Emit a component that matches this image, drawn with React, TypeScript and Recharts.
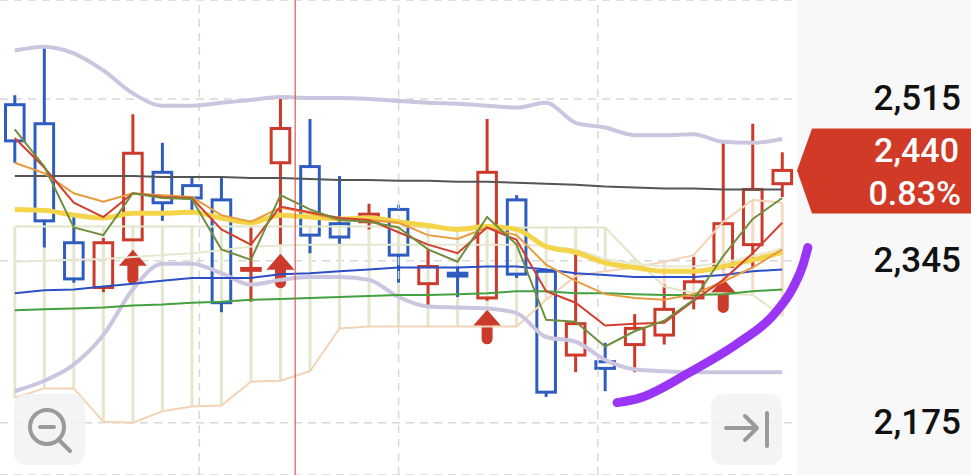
import React from "react";
import { ComposedChart, Bar, Line, XAxis, YAxis, CartesianGrid, ReferenceLine } from "recharts";

// 27 sessions, oldest first
const sessions = [0, 1, 2, 3, 4, 5, 6, 7, 8, 9, 10, 11, 12, 13, 14, 15, 16, 17, 18, 19, 20, 21, 22, 23, 24, 25, 26];

const opens = [2509, 2489, 2364, 2317, 2367, 2438, 2424, 2409, 2335, 2448, 2444, 2384, 2386, 2399, 2321, 2332, 2306, 2409, 2334, 2246, 2239, 2257, 2267, 2306, 2339, 2362, 2426];
const highs = [2519, 2570, 2394, 2369, 2499, 2469, 2434, 2434, 2380, 2518, 2494, 2434, 2405, 2404, 2357, 2339, 2494, 2414, 2336, 2354, 2259, 2289, 2320, 2349, 2469, 2489, 2459];
const lows = [2448, 2359, 2322, 2312, 2366, 2387, 2397, 2291, 2302, 2362, 2353, 2362, 2378, 2322, 2297, 2307, 2303, 2327, 2202, 2228, 2208, 2228, 2257, 2294, 2336, 2338, 2412];
const closes = [2471, 2387, 2326, 2364, 2458, 2406, 2411, 2301, 2337, 2484, 2372, 2370, 2394, 2351, 2339, 2329, 2438, 2331, 2207, 2279, 2232, 2274, 2294, 2323, 2384, 2420, 2440];

// sessions marked with a buy arrow
const buySignals = [4, 9, 16, 24];

// moving averages
const ma5 = [2483, 2444, 2380, 2372, 2416, 2411, 2410, 2357, 2346, 2414, 2399, 2388, 2386, 2380, 2357, 2344, 2391, 2362, 2283, 2281, 2255, 2271, 2282, 2304, 2350, 2389, 2411];
const ma10 = [2474, 2443, 2406, 2391, 2416, 2412, 2411, 2378, 2362, 2402, 2396, 2390, 2388, 2375, 2362, 2353, 2380, 2367, 2313, 2301, 2277, 2279, 2280, 2303, 2325, 2353, 2385];
const ma20 = [2448, 2437, 2416, 2407, 2416, 2414, 2412, 2393, 2386, 2401, 2395, 2388, 2388, 2385, 2372, 2368, 2380, 2372, 2341, 2324, 2310, 2306, 2304, 2310, 2323, 2338, 2357];
const ma60 = [2399, 2398, 2393, 2390, 2395, 2395, 2396, 2390, 2385, 2393, 2391, 2389, 2390, 2386, 2382, 2378, 2381, 2378, 2360, 2354, 2343, 2338, 2334, 2334, 2339, 2346, 2354];
const ma120 = [2311, 2314, 2315, 2318, 2321, 2324, 2327, 2327, 2327, 2331, 2332, 2334, 2336, 2338, 2338, 2338, 2339, 2339, 2336, 2332, 2330, 2328, 2328, 2328, 2330, 2334, 2336];
const ma240 = [2293, 2294, 2295, 2296, 2298, 2299, 2301, 2302, 2304, 2305, 2306, 2307, 2308, 2309, 2309, 2310, 2311, 2313, 2313, 2311, 2311, 2310, 2309, 2309, 2310, 2313, 2315];
const ma480 = [2434, 2434, 2434, 2434, 2434, 2433, 2433, 2433, 2432, 2432, 2431, 2430, 2430, 2429, 2429, 2428, 2428, 2427, 2426, 2425, 2423, 2422, 2421, 2421, 2420, 2420, 2420];

// bollinger bands
const bandUpper = [2566, 2570, 2563, 2545, 2521, 2508, 2508, 2511, 2514, 2517, 2516, 2516, 2515, 2513, 2511, 2510, 2508, 2506, 2511, 2490, 2485, 2477, 2477, 2478, 2470, 2469, 2473];
const bandLower = [2208, 2219, 2236, 2267, 2315, 2342, 2342, 2332, 2320, 2325, 2328, 2328, 2325, 2307, 2297, 2296, 2295, 2290, 2265, 2260, 2241, 2231, 2229, 2228, 2228, 2228, 2228];

// ichimoku
const spanA = [2381, 2381, 2381, 2381, 2381, 2381, 2381, 2381, 2381, 2381, 2381, 2381, 2381, 2381, 2380, 2380, 2380, 2380, 2380, 2380, 2380, 2348, 2318, 2311, 2311, 2309, 2287];
const spanB = [2201, 2211, 2211, 2176, 2175, 2187, 2192, 2193, 2218, 2219, 2229, 2274, 2276, 2276, 2276, 2276, 2276, 2276, 2304, 2329, 2334, 2338, 2344, 2351, 2386, 2409, 2406];
const baseLine = [2344, 2345, 2346, 2347, 2349, 2351, 2353, 2356, 2360, 2361, 2362, 2362, 2362, 2362, 2362, 2362, 2362, 2362, 2361, 2357, 2347, 2342, 2339, 2339, 2343, 2350, 2358];

// hand-drawn trend stroke (session position, price)
const penAt = [20.4, 21.18, 22.87, 24.57, 25.69, 26.36, 26.7, 26.86];
const penPrice = [2196, 2201, 2228, 2260, 2288, 2317, 2341, 2359];

const priceTicks = [2175, 2345, 2515];
// time grid every quarter of the visible range, in session units
const timeGrid = [6.25, 13, 19.75];

const UP = "#cc3a2b";
const DOWN = "#2f5dbf";
const W = 971;
const H = 475;
const AXIS_W = 174;
const FONT = "Roboto, 'Noto Sans', sans-serif";

const rows = sessions.map((s, i) => ({
  s,
  o: opens[i],
  h: highs[i],
  l: lows[i],
  c: closes[i],
  hl: [lows[i], highs[i]],
  cloud: [Math.min(spanA[i], spanB[i]), Math.max(spanA[i], spanB[i])],
  bull: spanA[i] >= spanB[i],
  sig: buySignals.includes(i),
  ma5: ma5[i],
  ma10: ma10[i],
  ma20: ma20[i],
  ma60: ma60[i],
  ma120: ma120[i],
  ma240: ma240[i],
  ma480: ma480[i],
  bbU: bandUpper[i],
  bbL: bandLower[i],
  spanA: spanA[i],
  spanB: spanB[i],
  base: baseLine[i],
}));

const penTrail = penAt.map((p, i) => ({ p, v: penPrice[i] }));

const last = closes[closes.length - 1];
const prev = closes[closes.length - 2];
const changePct = (((last - prev) / prev) * 100).toFixed(2) + "%";

function arrowPath(cx: number, t: number) {
  return `M${cx} ${t} L${cx + 14} ${t + 16} L${cx + 5.5} ${t + 16} L${cx + 5.5} ${t + 29} A5.5 5.5 0 0 1 ${cx - 5.5} ${t + 29} L${cx - 5.5} ${t + 16} L${cx - 14} ${t + 16} Z`;
}

// hollow candle: wick + open/close box, scaled from the high-low bar
function Candle(props: any) {
  const { x, y, width, height, payload } = props;
  const { o, h, l, c, sig } = payload;
  const unit = height / (h - l);
  const py = (v: number) => y + (h - v) * unit;
  const color = c >= o ? UP : DOWN;
  const cx = x + width / 2;
  const top = py(Math.max(o, c));
  const bot = py(Math.min(o, c));
  return (
    <g>
      <line x1={cx} x2={cx} y1={y} y2={top} stroke={color} strokeWidth={3} />
      <line x1={cx} x2={cx} y1={bot} y2={y + height} stroke={color} strokeWidth={3} />
      <rect x={x + 1.5} y={top} width={width - 3} height={Math.max(bot - top, 1)} fill="none" stroke={color} strokeWidth={3} />
      {sig && <path d={arrowPath(cx, y + height + 9)} fill={UP} />}
    </g>
  );
}

function CloudRib(props: any) {
  const { x, y, width, height, payload } = props;
  return <rect x={x + width / 2 - 1.5} y={y} width={3} height={height} fill={payload.bull ? "#e3e8cd" : "#f5dcc5"} />;
}

function PriceTick(props: any) {
  const { y, payload } = props;
  return (
    <text x={W - 10} y={y} textAnchor="end" dominantBaseline="central" fontSize={35} fontWeight={500} fill="#111" fontFamily={FONT}>
      {payload.value.toLocaleString("en-US")}
    </text>
  );
}

function PriceBadge(props: any) {
  const { viewBox } = props;
  if (!viewBox) return null;
  const tx = viewBox.x + viewBox.width;
  const ty = viewBox.y;
  const pts = `${tx},${ty} ${tx + 15},${ty - 42} ${W},${ty - 42} ${W},${ty + 43} ${tx + 15},${ty + 43}`;
  return (
    <g>
      <polygon points={pts} fill="#d13a27" />
      <text x={W - 12} y={ty - 20} textAnchor="end" dominantBaseline="central" fontSize={34} fontWeight={500} fill="#fff" fontFamily={FONT}>
        {last.toLocaleString("en-US")}
      </text>
      <text x={W - 10} y={ty + 23} textAnchor="end" dominantBaseline="central" fontSize={34} fontWeight={500} fill="#fff" fontFamily={FONT}>
        {changePct}
      </text>
    </g>
  );
}

const btn: React.CSSProperties = {
  position: "absolute",
  top: 394,
  width: 71,
  height: 71,
  borderRadius: 12,
  background: "rgba(242,242,242,0.85)",
};

export default function App() {
  const line = (key: string, color: string, width: number, type: "linear" | "monotone" = "linear") => (
    <Line
      dataKey={key}
      stroke={color}
      strokeWidth={width}
      dot={false}
      activeDot={false}
      type={type}
      isAnimationActive={false}
    />
  );
  return (
    <div style={{ position: "relative", width: W, height: H, background: "#fff", fontFamily: FONT }}>
      <style>{"body{margin:0}"}</style>
      <div style={{ position: "absolute", left: W - AXIS_W, top: 0, width: AXIS_W, height: H, background: "#f8f8f8" }} />
      <ComposedChart
        width={W}
        height={H}
        data={rows}
        margin={{ top: 0, right: 0, bottom: 0, left: 0 }}
        barSize={21.6}
        barGap={-21.6}
        style={{ position: "absolute", left: 0, top: 0 }}
      >
        <XAxis dataKey="s" hide />
        <XAxis xAxisId="slot" dataKey="p" type="number" domain={[-0.5, 26.9]} padding={{ left: 0, right: -12 }} hide />
        <YAxis
          orientation="right"
          width={AXIS_W}
          domain={[2120, 2619]}
          ticks={priceTicks}
          axisLine={false}
          tickLine={false}
          tick={<PriceTick />}
        />
        <CartesianGrid vertical={false} strokeDasharray="8 6" stroke="#d8d8d8" strokeWidth={1.5} />
        {timeGrid.map((t) => (
          <ReferenceLine key={t} xAxisId="slot" x={t} stroke="#d8d8d8" strokeWidth={1.5} strokeDasharray="8 6" />
        ))}

        <Bar dataKey="cloud" barSize={21.6} shape={<CloudRib />} isAnimationActive={false} />
        {line("spanA", "#e0e6c8", 2)}
        {line("spanB", "#f3d3b5", 2)}
        {line("base", "#e6e8d2", 2)}
        {line("bbU", "#cbc5df", 4, "monotone")}
        {line("bbL", "#cbc5df", 4, "monotone")}
        {line("ma480", "#555555", 2)}
        {line("ma240", "#45a03f", 2)}
        {line("ma120", "#2b4fc6", 2)}
        {line("ma60", "#f4d54a", 5, "monotone")}
        {line("ma20", "#e99b3f", 2)}
        {line("ma10", "#d23f2f", 2)}
        {line("ma5", "#6f8f3d", 2)}

        <ReferenceLine x={9} position="end" stroke="#e25a50" strokeWidth={1.2} />

        <Bar dataKey="hl" barSize={21.6} shape={<Candle />} isAnimationActive={false} />

        <Line
          xAxisId="slot"
          data={penTrail}
          dataKey="v"
          stroke="#9b35f5"
          strokeWidth={9}
          strokeLinecap="round"
          strokeLinejoin="round"
          dot={false}
          activeDot={false}
          type="monotone"
          isAnimationActive={false}
        />
        <ReferenceLine y={last} stroke="none" label={<PriceBadge />} />
      </ComposedChart>

      <div style={{ ...btn, left: 14 }}>
        <svg width={71} height={71}>
          <circle cx={33} cy={33} r={17} fill="none" stroke="#9a9a9a" strokeWidth={4} />
          <line x1={26} x2={40} y1={33} y2={33} stroke="#9a9a9a" strokeWidth={4} strokeLinecap="round" />
          <line x1={46} x2={56} y1={47} y2={57} stroke="#9a9a9a" strokeWidth={4} strokeLinecap="round" />
        </svg>
      </div>
      <div style={{ ...btn, left: 711 }}>
        <svg width={71} height={71}>
          <line x1={15} x2={45} y1={34} y2={34} stroke="#9a9a9a" strokeWidth={4} strokeLinecap="round" />
          <polyline points="34,22 46,34 34,46" fill="none" stroke="#9a9a9a" strokeWidth={4} strokeLinecap="round" strokeLinejoin="round" />
          <line x1={56} x2={56} y1={19} y2={52} stroke="#9a9a9a" strokeWidth={4} strokeLinecap="round" />
        </svg>
      </div>
    </div>
  );
}
